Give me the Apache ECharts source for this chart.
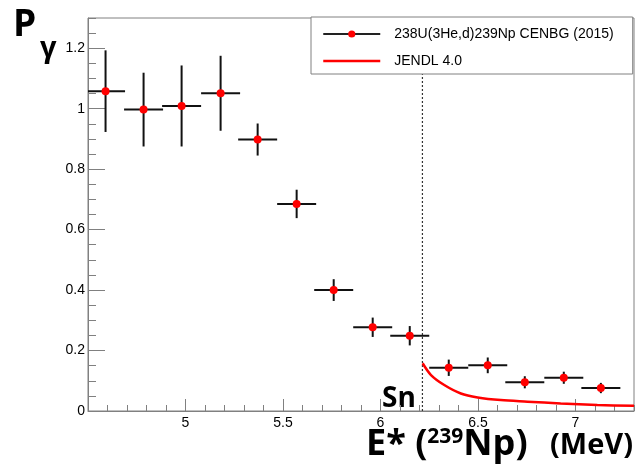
<!DOCTYPE html>
<html><head><meta charset="utf-8">
<script src="https://cdn.jsdelivr.net/npm/echarts@6/dist/echarts.min.js"></script>
<style>html,body{margin:0;padding:0;background:#fff}#c{width:636px;height:473px}</style>
</head><body><div id="c"></div>
<script>
// ---- data ----
const energies   = [4.59, 4.785, 4.98, 5.18, 5.37, 5.57, 5.76, 5.96, 6.15, 6.35, 6.55, 6.74, 6.94, 7.13];
const pGamma     = [1.058, 0.997, 1.009, 1.051, 0.898, 0.685, 0.400, 0.277, 0.249, 0.143, 0.151, 0.095, 0.110, 0.076];
const pGammaErr  = [0.135, 0.122, 0.134, 0.124, 0.053, 0.047, 0.036, 0.032, 0.032, 0.027, 0.026, 0.020, 0.020, 0.017];
const energyErr  = [0.1, 0.1, 0.1, 0.1, 0.1, 0.1, 0.1, 0.1, 0.1, 0.1, 0.1, 0.1, 0.1, 0.1];
const jendlE     = [6.216, 6.259, 6.327, 6.412, 6.498, 6.617, 6.754, 6.924, 7.112, 7.3];
const jendlP     = [0.158, 0.119, 0.086, 0.058, 0.045, 0.036, 0.031, 0.025, 0.020, 0.017];
const snEnergy   = 6.215;
const snLineTop  = 1.116;
const dataName   = '238U(3He,d)239Np CENBG (2015)';
const modelName  = 'JENDL 4.0';
const xRange = [4.5, 7.3], xMajor = 0.5, xMinor = 0.1;
const yRange = [0, 1.3],   yMajor = 0.2, yMinor = 0.05;

const pts = energies.map((e, i) => [e, pGamma[i], energyErr[i], pGammaErr[i]]);
const jendl = jendlE.map((e, i) => [e, jendlP[i]]);

const AX = '#808080';
const labelFont = {fontFamily: 'Liberation Sans', fontSize: 14, color: '#000'};
const TF = 'Open Sans';

const chart = echarts.init(document.getElementById('c'), null, {renderer: 'canvas'});
chart.setOption({
  animation: false,
  backgroundColor: '#fff',
  grid: {left: 88, right: 2, top: 18, bottom: 62, show: true, borderColor: AX, borderWidth: 1, backgroundColor: 'transparent'},
  xAxis: [{
    type: 'value', min: xRange[0], max: xRange[1], interval: xMajor,
    axisLine: {lineStyle: {color: AX, width: 1}},
    axisTick: {inside: true, length: 12, lineStyle: {color: AX}},
    axisLabel: Object.assign({margin: 5, showMaxLabel: false, showMinLabel: false}, labelFont),
    splitLine: {show: false}
  }, {
    type: 'value', position: 'bottom', min: xRange[0], max: xRange[1], interval: xMinor,
    axisLine: {show: false}, axisLabel: {show: false}, splitLine: {show: false},
    axisTick: {inside: true, length: 6, lineStyle: {color: AX}}
  }],
  yAxis: [{
    type: 'value', min: yRange[0], max: yRange[1], interval: yMajor,
    axisLine: {lineStyle: {color: AX, width: 1}},
    axisTick: {inside: true, length: 17, lineStyle: {color: AX}},
    axisLabel: Object.assign({margin: 3, showMaxLabel: false}, labelFont),
    splitLine: {show: false}
  }, {
    type: 'value', position: 'left', min: yRange[0], max: yRange[1], interval: yMinor,
    axisLine: {show: false}, axisLabel: {show: false}, splitLine: {show: false},
    axisTick: {inside: true, length: 8, lineStyle: {color: AX}}
  }],
  legend: {
    orient: 'vertical', left: 311, top: 17,
    itemWidth: 57, itemHeight: 9, itemGap: 13,
    padding: [10, 19, 6, 11],
    backgroundColor: '#fff', borderColor: AX, borderWidth: 1, borderRadius: 0,
    textStyle: {fontFamily: 'Liberation Sans', fontSize: 14, color: '#000', padding: [0, 0, 0, 9]},
    data: [
      {name: dataName, itemStyle: {color: '#ff0000'}, lineStyle: {color: '#222', width: 2, opacity: 1}},
      {name: modelName, itemStyle: {opacity: 0}, lineStyle: {color: '#ff0000', width: 2.5, opacity: 1}}
    ]
  },
  series: [
    {
      type: 'line', name: 'Sn', data: [[snEnergy, yRange[0]], [snEnergy, snLineTop]],
      symbol: 'none', lineStyle: {color: '#333', width: 1.2, type: [2, 2]}, z: 1
    },
    {
      type: 'custom', name: 'errors', data: pts, clip: true, z: 2,
      renderItem: function (params, api) {
        const x = api.value(0), y = api.value(1), ex = api.value(2), ey = api.value(3);
        const l = api.coord([x - ex, y]), r = api.coord([x + ex, y]);
        const t = api.coord([x, y + ey]), b = api.coord([x, y - ey]);
        const st = {stroke: '#111', lineWidth: 2};
        return {type: 'group', children: [
          {type: 'line', shape: {x1: l[0], y1: l[1], x2: r[0], y2: r[1]}, style: st},
          {type: 'line', shape: {x1: t[0], y1: t[1], x2: b[0], y2: b[1]}, style: st}
        ]};
      }
    },
    {
      type: 'line', name: dataName, data: pts.map(p => [p[0], p[1]]),
      symbol: 'circle', symbolSize: 8, showSymbol: true,
      itemStyle: {color: '#ff0000'}, lineStyle: {width: 0, color: '#222'}, z: 3
    },
    {
      type: 'line', name: modelName, data: jendl, symbol: 'none', smooth: 0.3,
      itemStyle: {color: '#ff0000'}, lineStyle: {color: '#ff0000', width: 2.5}, z: 2
    }
  ],
  graphic: [
    {type: 'text', left: 13, top: 7, style: {text: 'P', font: 'bold 37px "' + TF + '"', fill: '#000'}},
    {type: 'text', left: 40, top: 34, style: {text: 'γ', font: 'bold 29px "' + TF + '"', fill: '#000'}},
    {type: 'text', left: 382, top: 385, style: {text: 'Sn', font: 'bold 28px "' + TF + '"', fill: '#000'}},
    {type: 'text', left: 366, top: 427, style: {
      text: '{a|E* (}{s|239}{a|Np)}',
      rich: {
        a: {fontFamily: TF, fontWeight: 'bold', fontSize: 36, lineHeight: 36, verticalAlign: 'bottom', color: '#000'},
        s: {fontFamily: TF, fontWeight: 'bold', fontSize: 21, lineHeight: 14, verticalAlign: 'top', color: '#000'}
      }
    }},
    {type: 'text', right: 3, top: 431, style: {text: '(MeV)', fontFamily: TF, fontWeight: 'bold', fontSize: 29, lineHeight: 30, fill: '#000'}}
  ]
});
</script></body></html>
